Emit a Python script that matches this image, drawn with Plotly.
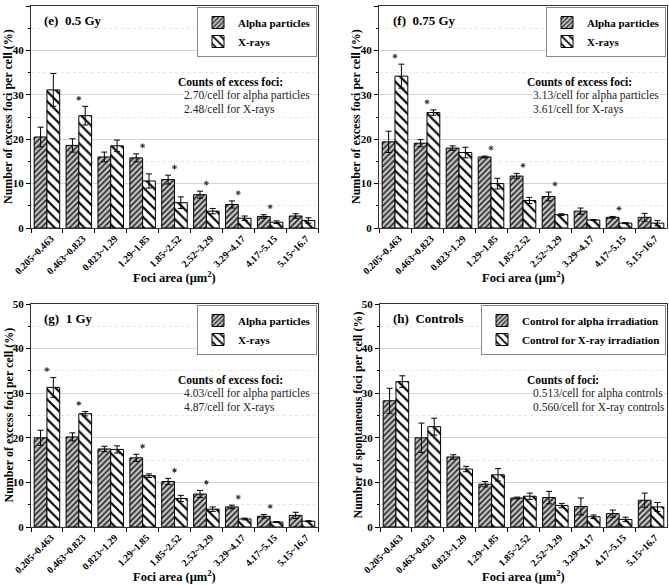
import plotly.graph_objects as go

cats = ["0.205~0.463", "0.463~0.823", "0.823~1.29", "1.29~1.85", "1.85~2.52",
        "2.52~3.29", "3.29~4.17", "4.17~5.15", "5.15~16.7"]

e_alpha = [20.5, 18.6, 16.0, 15.8, 10.9, 7.5, 5.3, 2.6, 2.7]
e_alpha_err = [2.2, 1.5, 1.1, 0.9, 1.0, 0.8, 0.8, 0.4, 0.5]
e_xray = [31.1, 25.3, 18.5, 10.6, 5.7, 3.8, 2.2, 1.3, 1.7]
e_xray_err = [3.7, 2.1, 1.3, 1.6, 1.3, 0.6, 0.5, 0.3, 0.6]
e_stars = [0, 1, 0, 1, 1, 1, 1, 1, 0]

f_alpha = [19.4, 19.1, 18.0, 16.0, 11.7, 7.1, 3.8, 2.4, 2.4]
f_alpha_err = [2.4, 0.8, 0.5, 0.2, 0.6, 1.0, 0.7, 0.2, 0.9]
f_xray = [34.2, 26.0, 17.0, 10.0, 6.2, 3.0, 1.8, 1.1, 1.1]
f_xray_err = [2.7, 0.6, 1.2, 1.2, 0.7, 0.2, 0.1, 0.1, 0.6]
f_stars = [1, 1, 0, 1, 1, 1, 0, 1, 0]

g_alpha = [20.0, 20.2, 17.5, 15.5, 10.2, 7.4, 4.5, 2.4, 2.6]
g_alpha_err = [1.7, 0.9, 0.6, 0.8, 0.7, 0.8, 0.4, 0.4, 0.7]
g_xray = [31.3, 25.4, 17.4, 11.5, 6.4, 4.0, 1.8, 1.1, 1.3]
g_xray_err = [2.2, 0.5, 0.8, 0.4, 0.7, 0.5, 0.2, 0.1, 0.1]
g_stars = [1, 1, 0, 1, 1, 1, 1, 1, 0]

h_alpha = [28.3, 20.0, 15.7, 9.6, 6.5, 6.6, 4.6, 3.0, 6.0]
h_alpha_err = [2.8, 3.3, 0.5, 0.6, 0.2, 1.4, 1.9, 0.8, 1.6]
h_xray = [32.6, 22.5, 13.0, 11.7, 6.9, 4.8, 2.3, 1.7, 4.5]
h_xray_err = [1.3, 1.9, 0.6, 1.4, 0.7, 0.5, 0.4, 0.5, 1.0]
h_stars = [0, 0, 0, 0, 0, 0, 0, 0, 0]

FONT = "Liberation Serif"
W, H = 669, 585

panels = [
    dict(label="(e)  0.5 Gy", a=e_alpha, ae=e_alpha_err, x=e_xray, xe=e_xray_err, stars=e_stars,
         names=("Alpha particles", "X-rays"), head="Counts of excess foci:",
         lines=("2.70/cell for alpha particles", "2.48/cell for X-rays"),
         ytitle="Number of excess foci per cell (%)", box=(31, 318, 6, 228)),
    dict(label="(f)  0.75 Gy", a=f_alpha, ae=f_alpha_err, x=f_xray, xe=f_xray_err, stars=f_stars,
         names=("Alpha particles", "X-rays"), head="Counts of excess foci:",
         lines=("3.13/cell for alpha particles", "3.61/cell for X-rays"),
         ytitle="Number of excess foci per cell (%)", box=(379, 667, 6, 228)),
    dict(label="(g)  1 Gy", a=g_alpha, ae=g_alpha_err, x=g_xray, xe=g_xray_err, stars=g_stars,
         names=("Alpha particles", "X-rays"), head="Counts of excess foci:",
         lines=("4.03/cell for alpha particles", "4.87/cell for X-rays"),
         ytitle="Number of excess foci per cell (%)", box=(31, 318, 304, 527)),
    dict(label="(h)  Controls", a=h_alpha, ae=h_alpha_err, x=h_xray, xe=h_xray_err, stars=h_stars,
         names=("Control for alpha irradiation", "Control for X-ray irradiation"),
         head="Counts of foci:",
         lines=("0.513/cell for alpha controls", "0.560/cell for X-ray controls"),
         ytitle="Number of spontaneous foci per cell (%)", box=(380, 667, 304, 527)),
]

fig = go.Figure()
annotations = []
layout = {}

for i, p in enumerate(panels):
    n = "" if i == 0 else str(i + 1)
    xa, ya = "x" + n, "y" + n
    leg = "legend" + n
    x0, x1, y0, y1 = p["box"]
    xdom = [x0 / W, x1 / W]
    ydom = [1 - y1 / H, 1 - y0 / H]

    fig.add_trace(go.Bar(
        x=cats, y=p["a"], name=p["names"][0], xaxis=xa, yaxis=ya, legend=leg,
        offsetgroup="a",
        marker=dict(color="#c8c8c8", line=dict(color="black", width=1),
                    pattern=dict(shape="/", fgcolor="#222222", bgcolor="#c8c8c8",
                                 size=4, solidity=0.4)),
        error_y=dict(type="data", array=p["ae"], color="black", thickness=1, width=3),
    ))
    fig.add_trace(go.Bar(
        x=cats, y=p["x"], name=p["names"][1], xaxis=xa, yaxis=ya, legend=leg,
        offsetgroup="b",
        marker=dict(color="white", line=dict(color="black", width=1),
                    pattern=dict(shape="\\", fgcolor="black", bgcolor="white",
                                 size=7, solidity=0.3)),
        error_y=dict(type="data", array=p["xe"], color="black", thickness=1, width=3),
    ))

    # significance markers above the taller bar of each marked group
    sx, sy = [], []
    for j, s in enumerate(p["stars"]):
        if s:
            sx.append(cats[j])
            sy.append(max(p["a"][j] + p["ae"][j], p["x"][j] + p["xe"][j]) + 1.8)
    if sx:
        fig.add_trace(go.Scatter(
            x=sx, y=sy, mode="markers", xaxis=xa, yaxis=ya, showlegend=False,
            marker=dict(symbol="asterisk-open", size=4, color="#333",
                        line=dict(color="#333", width=1)),
            hoverinfo="skip",
        ))

    layout["xaxis" + n] = dict(
        domain=xdom, anchor=ya, type="category", tickson="boundaries", automargin=False,
        ticks="outside", ticklen=4, tickcolor="black", tickangle=-45, ticklabelshift=4,
        tickfont=dict(family=FONT, size=10, weight="bold", color="black"),
        showline=True, linecolor="#333", linewidth=1, mirror=True,
        showgrid=False, range=[-0.5, 8.5],
    )
    layout["yaxis" + n] = dict(
        domain=ydom, anchor=xa, range=[0, 50], dtick=10, automargin=False,
        ticks="outside", ticklen=4, tickcolor="black",
        tickfont=dict(family=FONT, size=11, weight="bold", color="black"),
        showline=True, linecolor="#333", linewidth=1, mirror=True,
        showgrid=True, gridcolor="#d4d4d4", gridwidth=1, zeroline=False,
        minor=dict(dtick=5, ticks="outside", ticklen=2, tickcolor="black",
                   showgrid=True, gridcolor="#e6e6e6", griddash="dot"),
    )
    layout[leg] = dict(
        x=xdom[1] - 1 / W, y=ydom[1] - 1 / H, xanchor="right", yanchor="top",
        bgcolor="white", bordercolor="#888", borderwidth=1,
        font=dict(family=FONT, size=11, weight="bold", color="black"),
        tracegroupgap=0, itemwidth=30,
    )

    ref = dict(xref=xa + " domain", yref=ya + " domain")
    annotations.append(dict(text="<b>" + p["label"] + "</b>", x=0.04, y=0.935,
                            xanchor="left", yanchor="middle", showarrow=False,
                            font=dict(family=FONT, size=13, color="black"), **ref))
    annotations.append(dict(text="<b>" + p["head"] + "</b>", x=0.51, y=0.658,
                            xanchor="left", yanchor="middle", showarrow=False,
                            bgcolor="white", borderpad=0,
                            font=dict(family=FONT, size=11.5, color="black"), **ref))
    for k, line in enumerate(p["lines"]):
        annotations.append(dict(text=line, x=0.53, y=0.598 - 0.062 * k,
                                xanchor="left", yanchor="middle", showarrow=False,
                                bgcolor="white", borderpad=0,
                                font=dict(family=FONT, size=11.5, color="#222"), **ref))

    # axis titles
    annotations.append(dict(text="<b>Foci area (μm<sup>2</sup>)</b>",
                            x=(x0 + x1) / 2 / W, y=1 - (y1 + 49) / H,
                            xref="paper", yref="paper", xanchor="center", yanchor="middle",
                            showarrow=False, font=dict(family=FONT, size=12.5, color="black")))
    annotations.append(dict(text="<b>" + p["ytitle"] + "</b>",
                            x=(x0 - 23) / W, y=1 - (y0 + y1) / 2 / H, textangle=-90,
                            xref="paper", yref="paper", xanchor="center", yanchor="middle",
                            showarrow=False, font=dict(family=FONT, size=12, color="black")))

fig.update_layout(
    template="none",
    width=W, height=H, margin=dict(l=0, r=0, t=0, b=0, autoexpand=False),
    paper_bgcolor="white", plot_bgcolor="white",
    barmode="group", bargap=0.2, bargroupgap=0,
    annotations=annotations,
    font=dict(family=FONT, color="black"),
    **layout,
)

fig.write_html("out.html", config={"displayModeBar": False},
               post_script="document.body.style.margin='0';")
